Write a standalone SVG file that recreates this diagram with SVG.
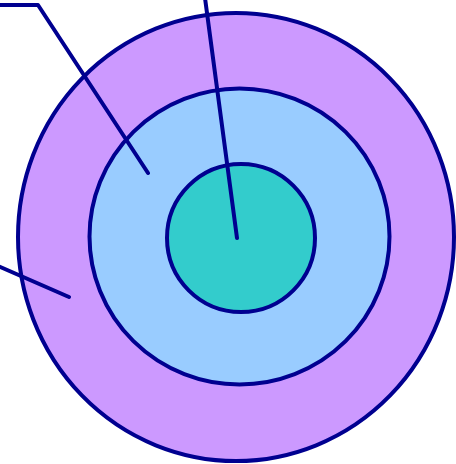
<svg xmlns="http://www.w3.org/2000/svg" width="456" height="464" viewBox="0 0 456 464">
  <style>
    .ring { stroke: #000090; stroke-width: 4; }
    .lead { fill: none; stroke: #000090; stroke-width: 4; stroke-linecap: round; stroke-linejoin: round; }
  </style>
  <rect width="456" height="464" fill="#ffffff"/>
  <g id="outer">
    <ellipse class="ring" cx="236" cy="237" rx="218" ry="224" fill="#cc99ff"/>
  </g>
  <g id="middle">
    <ellipse class="ring" cx="239.5" cy="236.5" rx="150" ry="148" fill="#99ccff"/>
  </g>
  <g id="inner">
    <ellipse class="ring" cx="241" cy="238" rx="74" ry="74" fill="#33cccc"/>
  </g>
  <g id="connectors">
    <polyline class="lead" points="-2,5 38,5 148,173"/>
    <polyline class="lead" points="205,-2 237,238"/>
    <polyline class="lead" points="-2,266 69,297"/>
  </g>
</svg>
